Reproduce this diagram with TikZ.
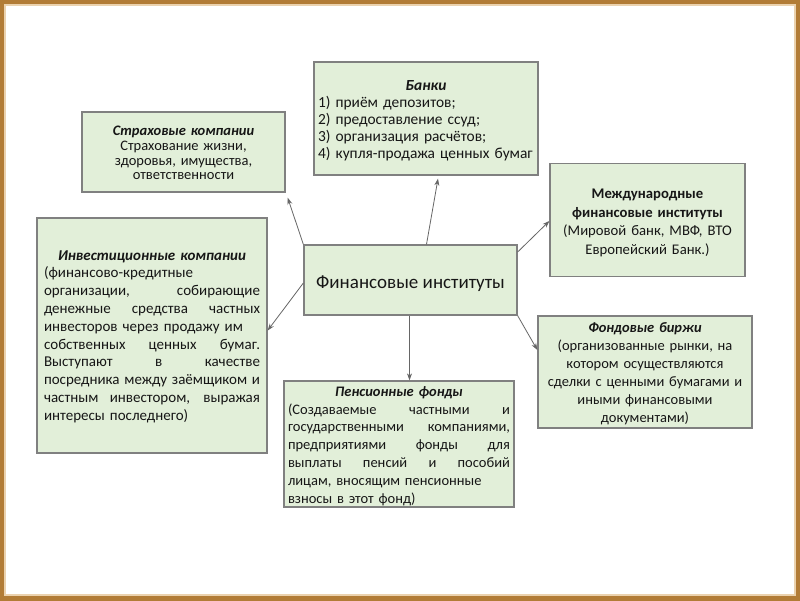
\documentclass[tikz,border=0pt]{standalone}
\usepackage{fontspec}
\setmainfont{Carlito}
\usetikzlibrary{arrows.meta,calc}
\definecolor{boxfill}{HTML}{E2EFD9}
\definecolor{boxline}{HTML}{808080}
\definecolor{txt}{HTML}{161616}
\definecolor{arrowgray}{HTML}{666666}
\definecolor{frameA}{HTML}{B27C36}
\definecolor{frameB}{HTML}{EBD2AE}
\newcommand\jst[1]{\hbox to\hsize{\spaceskip=0.23em plus 1fil\relax #1}}
\newcommand\lft[1]{\hbox{#1}}
\newcommand\ctr[1]{\hbox to\hsize{\hfil #1\hfil}}
\newcommand\bi[1]{\textbf{\textit{#1}}}
\newcommand\dn[2]{\vbox{\kern#1pt\relax #2\kern-#1pt\relax}}
\begin{document}
\begin{tikzpicture}[x=1pt,y=-1pt,
  box/.style={draw=boxline, line width=1.3pt, fill=boxfill, text=txt, inner sep=0pt,
    font=\fontsize{14.5}{17.6}\selectfont},
  arr/.style={draw=arrowgray, line width=0.8pt, -{Stealth[length=7pt,width=5pt]}}]
\useasboundingbox (0,0) rectangle (800,600);
\fill[white] (0,0) rectangle (800,600);
\draw[frameA, line width=8pt] (0,0) rectangle (800,600);
\draw[frameB, line width=1.5pt] (4.8,4.8) rectangle (795.2,595.2);

% center
\node[box, minimum width=213, minimum height=70, font=\fontsize{19}{22}\selectfont] (c) at (410.5,280)
  {\dn{4}{\hbox{Финансовые институты}}};

% Страховые компании
\node[box, minimum width=203, minimum height=80, text width=199,
  font=\fontsize{14.5}{14.8}\selectfont] (str) at (183.5,152)
  {\dn{1}{\ctr{\bi{Страховые компании}}\ctr{Страхование жизни,}\ctr{здоровья, имущества,}\ctr{ответственности}}};

% Банки
\node[box, minimum width=224, minimum height=113, text width=216, font=\fontsize{15.4}{17.1}\selectfont] (bank) at (426,118.5)
  {\dn{2}{\ctr{\bi{Банки}}\lft{1) приём депозитов;}\lft{2) предоставление ссуд;}\lft{3) организация расчётов;}\lft{4) купля-продажа ценных бумаг}}};

% Инвестиционные компании
\node[box, minimum width=230, minimum height=235, text width=216, font=\fontsize{15}{17.8}\selectfont] (inv) at (152,335.5)
  {\dn{1}{\ctr{\bi{Инвестиционные компании}}%
   \lft{(финансово-кредитные}%
   \jst{организации, собирающие}%
   \jst{денежные средства частных}%
   \lft{инвесторов через продажу им}%
   \jst{собственных ценных бумаг.}%
   \jst{Выступают в качестве}%
   \jst{посредника между заёмщиком и}%
   \jst{частным инвестором, выражая}%
   \lft{интересы последнего)}}};

% Международные
\node[box, minimum width=195, minimum height=113, text width=191,
  font=\fontsize{14.7}{18.6}\selectfont] (intl) at (647.5,220)
  {\dn{3}{\ctr{\textbf{Международные}}\ctr{\textbf{финансовые институты}}\ctr{(Мировой банк, МВФ, ВТО}\ctr{Европейский Банк.)}}};

% Фондовые биржи
\node[box, minimum width=214, minimum height=112, text width=210, font=\fontsize{14.5}{17.9}\selectfont] (fond) at (645,372)
  {\dn{1.5}{\ctr{\bi{Фондовые биржи}}\ctr{(организованные рынки, на}\ctr{котором осуществляются}\ctr{сделки с ценными бумагами и}\ctr{иными финансовыми}\ctr{документами)}}};

% Пенсионные фонды
\node[box, minimum width=230, minimum height=126, text width=222, font=\fontsize{14.5}{17.8}\selectfont] (pens) at (399,444)
  {\dn{2}{\ctr{\bi{Пенсионные фонды}}%
   \jst{(Создаваемые частными и}%
   \jst{государственными компаниями,}%
   \jst{предприятиями фонды для}%
   \jst{выплаты пенсий и пособий}%
   \lft{лицам, вносящим пенсионные}%
   \lft{взносы в этот фонд)}}};

% arrows
\coordinate (p1) at ($(c.south)+(-1,0)$);
\draw[arr] (c.north west) -- ($(str.south east)+(2,5)$);
\draw[arr] ($(c.north)+(16,0)$) -- ($(bank.south)+(12,3)$);
\draw[arr] ($(c.east)+(0,-28)$) -- ($(intl.west)+(0,1)$);
\draw[arr] ($(c.west)+(0,3)$) -- ($(inv.east)+(0,-5)$);
\draw[arr] (c.south east) -- ($(fond.west)+(0,-22)$);
\draw[arr] (p1) -- (p1 |- pens.north);
\end{tikzpicture}
\end{document}
